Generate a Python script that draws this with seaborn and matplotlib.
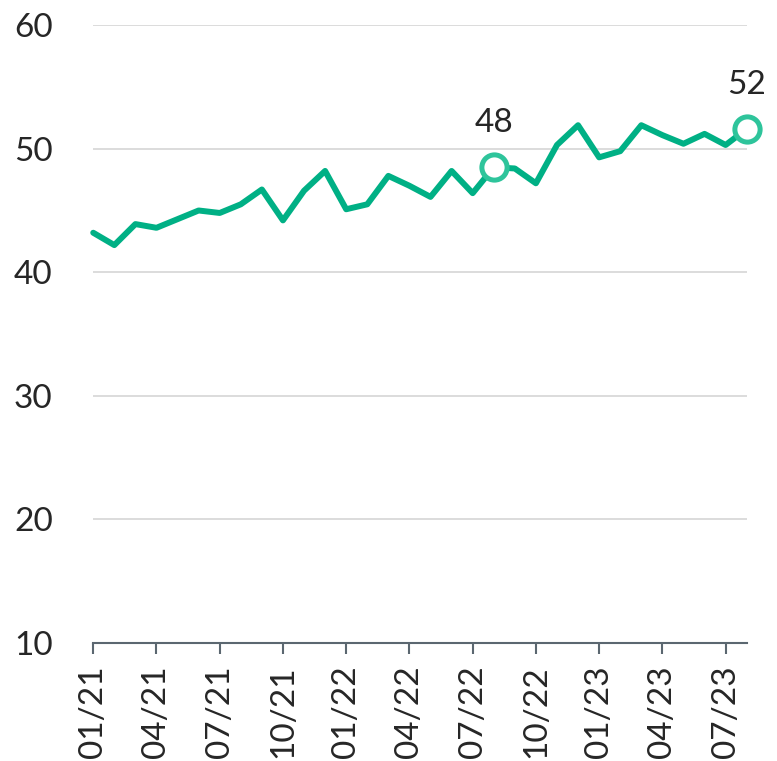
import seaborn as sns
import numpy as np
import pandas as pd
import matplotlib.pyplot as plt

# monthly values, 01/21 .. 08/23
months = ['01/21', '02/21', '03/21', '04/21', '05/21', '06/21', '07/21', '08/21', '09/21', '10/21', '11/21', '12/21',
          '01/22', '02/22', '03/22', '04/22', '05/22', '06/22', '07/22', '08/22', '09/22', '10/22', '11/22', '12/22',
          '01/23', '02/23', '03/23', '04/23', '05/23', '06/23', '07/23', '08/23']
values = [43.2, 42.2, 43.9, 43.6, 44.3, 45.0, 44.8, 45.5, 46.7, 44.2, 46.6, 48.2,
          45.1, 45.5, 47.8, 47.0, 46.1, 48.2, 46.4, 48.5, 48.4, 47.2, 50.3, 51.9,
          49.3, 49.8, 51.9, 51.1, 50.4, 51.2, 50.3, 51.6]
highlight = ['08/22', '08/23']
highlight_text = ['48', '52']
yticks = [10, 20, 30, 40, 50, 60]

df = pd.DataFrame({'month': months, 'value': values})
df['pos'] = np.arange(len(df))

sns.set_style('white')
plt.rcParams['font.family'] = ['Lato', 'DejaVu Sans']

fig = plt.figure(figsize=(7.77, 7.61), dpi=100)
ax = fig.add_axes([0.12, 0.155, 0.841, 0.812])

line_col = '#00b085'
ring_col = '#2ec49b'
txt_col = '#262626'

sns.lineplot(data=df, x='pos', y='value', color=line_col, linewidth=4.3, ax=ax, clip_on=False)

hl = df[df['month'].isin(highlight)]
ax.scatter(hl['pos'], hl['value'], s=330, facecolor='white', edgecolor=ring_col,
           linewidth=3.6, zorder=5, clip_on=False)
for (p, v), t in zip(zip(hl['pos'], hl['value']), highlight_text):
    ax.annotate(t, (p, v), xytext=(0, 21), textcoords='offset points', ha='center', va='bottom',
                fontsize=24, color=txt_col, annotation_clip=False)

ax.set_ylim(10, 60)
ax.set_xlim(0, len(df) - 1)
ax.set_yticks(yticks)
ax.set_yticklabels([str(t) for t in yticks], fontsize=24, color=txt_col)
ax.set_xticks(df['pos'][::3])
ax.set_xticklabels(df['month'][::3], rotation=90, fontsize=24, color=txt_col)

ax.grid(axis='y', color='#d9d9d9', linewidth=1.3)
ax.grid(axis='x', visible=False)
ax.set_axisbelow(True)
for s in ['top', 'right', 'left']:
    ax.spines[s].set_visible(False)
ax.spines['bottom'].set_color('#5b6770')
ax.spines['bottom'].set_linewidth(1.5)
ax.tick_params(axis='x', length=8, width=1.5, color='#5b6770', pad=8, bottom=True)
ax.tick_params(axis='y', length=0, pad=57)
for lab in ax.get_yticklabels():
    lab.set_horizontalalignment('left')
ax.set_xlabel('')
ax.set_ylabel('')

fig.savefig('out.png', dpi=100)
